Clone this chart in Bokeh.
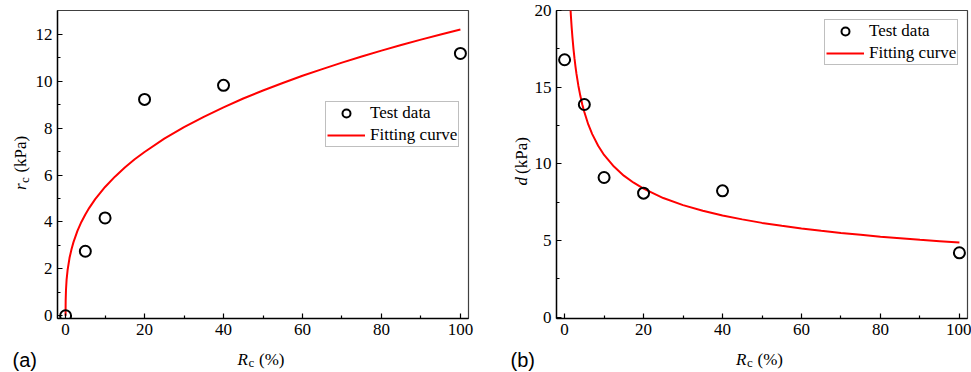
import math
from bokeh.plotting import figure
from bokeh.layouts import row, column
from bokeh.models import Range1d, FixedTicker, Legend, LegendItem, Label
from bokeh.embed import file_html
from bokeh.resources import INLINE

# ---- Panel (a): r_c vs R_c ----
rc_x = [0, 5, 10, 20, 40, 100]
rc_y = [0.0, 2.75, 4.17, 9.22, 9.82, 11.18]
fit_a_x = [0, 0.001, 0.005, 0.02, 0.1, 0.25, 0.5, 1, 1.5, 2, 3, 4, 5, 6, 7.5, 10,
           12.5, 15, 17.5, 20, 25, 30, 35, 40, 45, 50, 55, 60, 65, 70, 75, 80,
           85, 90, 95, 100]
fit_a_y = [0.0, 0.22, 0.39, 0.64, 1.11, 1.53, 1.94, 2.47, 2.84, 3.14, 3.62, 4.00,
           4.32, 4.60, 4.97, 5.49, 5.93, 6.32, 6.67, 6.98, 7.55, 8.04, 8.48, 8.88,
           9.26, 9.60, 9.92, 10.23, 10.51, 10.79, 11.05, 11.30, 11.54, 11.77,
           11.99, 12.20]

# ---- Panel (b): d vs R_c ----
d_x = [0, 5, 10, 20, 40, 100]
d_y = [16.79, 13.87, 9.11, 8.09, 8.24, 4.20]
fit_b_x = [1.4, 1.6, 1.8, 2, 2.25, 2.5, 2.75, 3, 3.5, 4, 4.5, 5, 6, 7, 8.5, 10,
           12.5, 15, 17.5, 20, 25, 30, 35, 40, 45, 50, 55, 60, 65, 70, 75, 80,
           85, 90, 95, 100]
fit_b_y = [20.54, 19.63, 18.87, 18.21, 17.50, 16.89, 16.36, 15.88, 15.08, 14.42,
           13.86, 13.38, 12.57, 11.94, 11.18, 10.58, 9.82, 9.23, 8.77, 8.38, 7.77,
           7.31, 6.94, 6.63, 6.38, 6.15, 5.96, 5.79, 5.63, 5.49, 5.37, 5.25, 5.15,
           5.05, 4.96, 4.87]

x_ticks = [0, 20, 40, 60, 80, 100]
x_minor = [10, 30, 50, 70, 90]
ya_ticks = [0, 2, 4, 6, 8, 10, 12]
ya_minor = [1, 3, 5, 7, 9, 11]
yb_ticks = [0, 5, 10, 15, 20]
yb_minor = [2.5, 7.5, 12.5, 17.5]

SERIF = "Liberation Serif"
FS = 17
SUB = 13
FRAME_W = 412
FRAME_H = 308
TOP = 10
BOTTOM = 25
ROW_H = TOP + FRAME_H + BOTTOM      # 343
PAGE_H = 372
STRIP_H = PAGE_H - ROW_H            # 29


def make_fig(xr, yr, xt, xm, yt, ym, left, right):
    p = figure(width=left + FRAME_W + right, height=ROW_H,
               x_range=Range1d(*xr), y_range=Range1d(*yr),
               output_backend="svg", toolbar_location=None,
               min_border_left=left, min_border_right=right,
               min_border_top=TOP, min_border_bottom=BOTTOM)
    p.grid.visible = False
    p.outline_line_color = "#404040"
    p.outline_line_width = 1.2
    p.background_fill_color = "white"
    p.border_fill_color = "white"
    p.xaxis.ticker = FixedTicker(ticks=xt, minor_ticks=xm)
    p.yaxis.ticker = FixedTicker(ticks=yt, minor_ticks=ym)
    for ax in (p.xaxis[0], p.yaxis[0]):
        ax.axis_line_color = "black"
        ax.axis_line_width = 1.4
        ax.major_tick_in = 5
        ax.major_tick_out = 0
        ax.minor_tick_in = 3
        ax.minor_tick_out = 0
        ax.major_tick_line_color = "black"
        ax.minor_tick_line_color = "black"
        ax.major_tick_line_width = 1.2
        ax.minor_tick_line_width = 1.2
        ax.major_label_text_font = SERIF
        ax.major_label_text_font_size = f"{FS}px"
        ax.major_label_text_color = "black"
        ax.axis_label = None
    p.xaxis.major_label_standoff = 5
    p.yaxis.major_label_standoff = 5
    return p


def strip(w, h):
    s = figure(width=w, height=h, x_range=Range1d(0, w), y_range=Range1d(0, h),
               x_axis_type=None, y_axis_type=None, output_backend="svg",
               toolbar_location=None, min_border=0, min_border_left=0,
               min_border_right=0, min_border_top=0, min_border_bottom=0)
    s.grid.visible = False
    s.outline_line_color = None
    s.background_fill_color = "white"
    s.border_fill_color = "white"
    return s


def add_text(p, x, y, text, size, style="normal", font=SERIF, angle=0.0,
             baseline="alphabetic"):
    p.add_layout(Label(x=x, y=y, text=text, text_font=font,
                       text_font_size=f"{size}px", text_font_style=style,
                       angle=angle, text_align="left",
                       text_baseline=baseline, text_color="black"))


def add_series(p, sx, sy, fx, fy, loc):
    ln = p.line(fx, fy, line_color="#ff0000", line_width=2)
    sc = p.scatter(sx, sy, marker="circle", size=11, fill_color=None,
                   line_color="black", line_width=2)
    leg = Legend(items=[LegendItem(label="Test data", renderers=[sc]),
                        LegendItem(label="Fitting curve", renderers=[ln])],
                 location=loc, label_text_font=SERIF,
                 label_text_font_size=f"{FS}px", label_text_color="black",
                 border_line_color="#808080", border_line_width=1,
                 background_fill_color="white", background_fill_alpha=1,
                 padding=1, spacing=2, margin=0, glyph_width=38,
                 glyph_height=20, label_height=20, label_standoff=5)
    p.add_layout(leg)


SA_W = 32
SB_W = 53

# Panel (a)
pa = make_fig((-2.05, 102.05), (-0.115, 13.01), x_ticks, x_minor,
              ya_ticks, ya_minor, 56 - SA_W, 10)
add_series(pa, rc_x, rc_y, fit_a_x, fit_a_y, (268, 171))

# Panel (b)
pb = make_fig((-2.05, 102.05), (-0.085, 20.0), x_ticks, x_minor,
              yb_ticks, yb_minor, 24, 4)
add_series(pb, d_x, d_y, fit_b_x, fit_b_y, (268, 253))

# y-axis title strips (left of each panel); y is measured up from strip bottom
UP = math.pi / 2
ya0 = ROW_H - 200
sa = strip(SA_W, ROW_H)
add_text(sa, 19.5, ya0, "r", FS, style="italic", angle=UP, baseline="middle")
add_text(sa, 23.5, ya0 + 8, "c", SUB, angle=UP, baseline="middle")
add_text(sa, 19.5, ya0 + 19.5, "(kPa)", FS, angle=UP, baseline="middle")

sb = strip(SB_W, ROW_H)
add_text(sb, 43, ROW_H - 195, "d", FS, style="italic", angle=UP, baseline="middle")
add_text(sb, 43, ROW_H - 182, "(kPa)", FS, angle=UP, baseline="middle")

# bottom strip: x-axis titles and panel tags (y measured up from page bottom)
bot = strip(971, STRIP_H)
for x_r in (237, 735.5):
    add_text(bot, x_r, PAGE_H - 358.5, "R", FS, style="italic")
    add_text(bot, x_r + 11, PAGE_H - 361.5, "c", SUB)
    add_text(bot, x_r + 21.5, PAGE_H - 358.5, "(%)", FS)
add_text(bot, 12, PAGE_H - 359, "(a)", 20, font="Liberation Sans")
add_text(bot, 510, PAGE_H - 359, "(b)", 20, font="Liberation Sans")

layout = column(row(sa, pa, sb, pb, spacing=0), bot, spacing=0)
open("out.html", "w").write(file_html(layout, INLINE))
